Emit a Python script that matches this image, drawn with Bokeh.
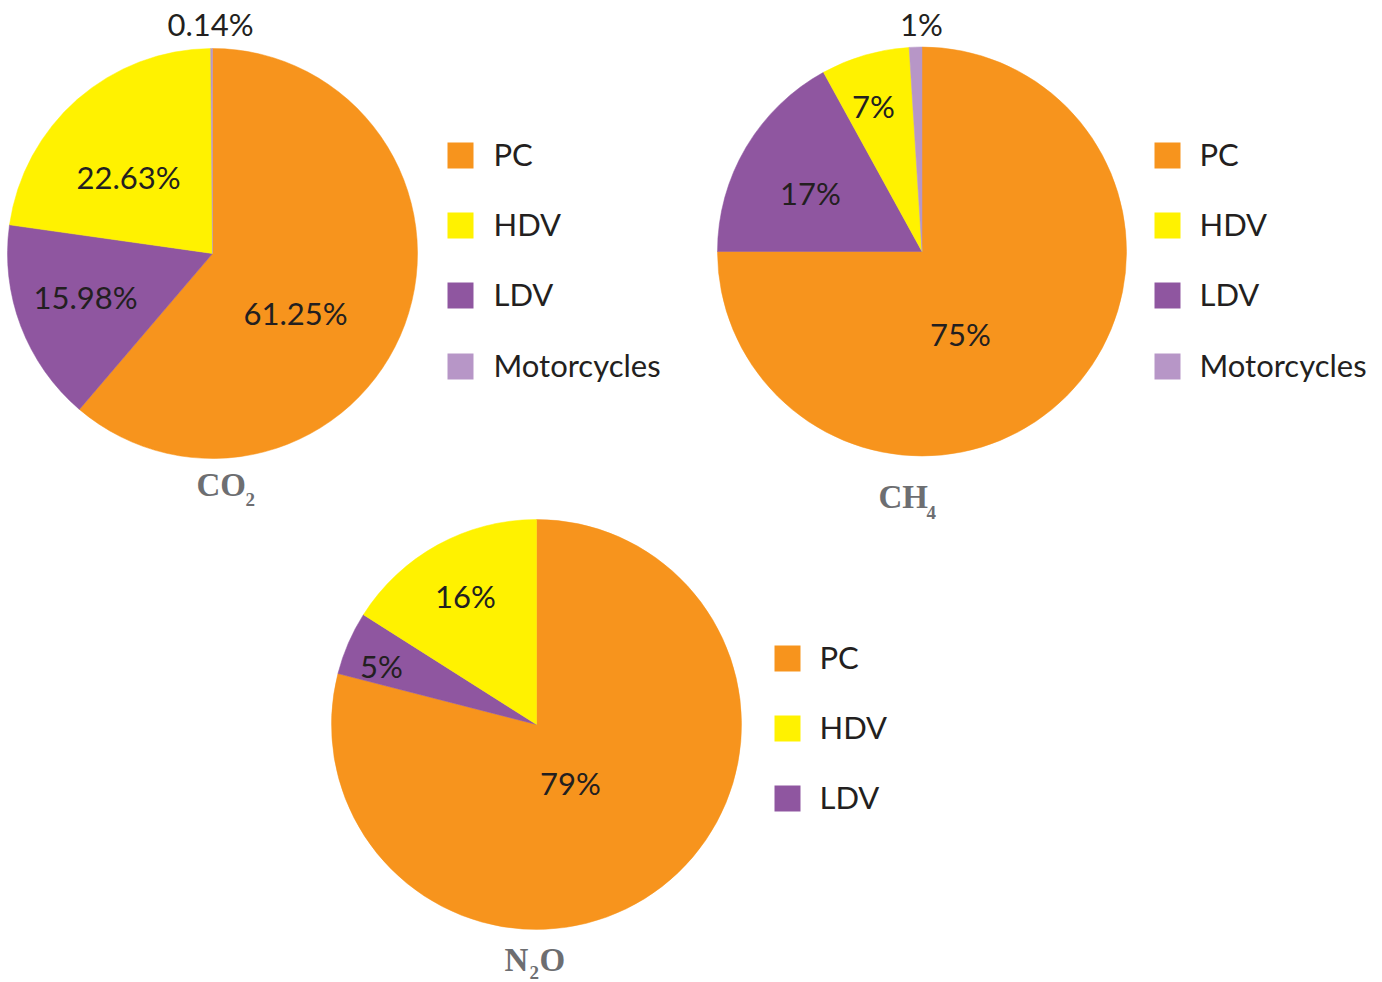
import math
from bokeh.plotting import figure
from bokeh.models import ColumnDataSource, Range1d
from bokeh.core.properties import value
from bokeh.embed import file_html
from bokeh.resources import INLINE

W, H = 1382, 982

# ---- data ----
co2_categories = ["PC", "LDV", "HDV", "Motorcycles"]
co2_values = [61.25, 15.98, 22.63, 0.14]
co2_labels = ["61.25%", "15.98%", "22.63%", "0.14%"]

ch4_categories = ["PC", "LDV", "HDV", "Motorcycles"]
ch4_values = [75, 17, 7, 1]
ch4_labels = ["75%", "17%", "7%", "1%"]

n2o_categories = ["PC", "LDV", "HDV"]
n2o_values = [79, 5, 16]
n2o_labels = ["79%", "5%", "16%"]

legend_4 = ["PC", "HDV", "LDV", "Motorcycles"]
legend_3 = ["PC", "HDV", "LDV"]

colors = {"PC": "#F7941D", "HDV": "#FFF200", "LDV": "#8F56A0", "Motorcycles": "#B796C7"}

# ---- layout (pixel positions, y measured from top) ----
pies = [
    dict(cats=co2_categories, vals=co2_values, labels=co2_labels, legend=legend_4,
         cx=212, cy=253, r=205,
         label_pos=[(295, 312), (85, 296), (128, 176), (210, 23)],
         leg_x=460, leg_y=[155, 225, 295, 366], txt_x=493),
    dict(cats=ch4_categories, vals=ch4_values, labels=ch4_labels, legend=legend_4,
         cx=921.5, cy=251, r=204.5,
         label_pos=[(960, 333), (810, 192), (873, 105), (921, 23)],
         leg_x=1167, leg_y=[155, 225, 295, 366], txt_x=1199),
    dict(cats=n2o_categories, vals=n2o_values, labels=n2o_labels, legend=legend_3,
         cx=536, cy=724, r=205,
         label_pos=[(570, 782), (381, 665), (465, 595)],
         leg_x=787, leg_y=[658, 728, 798], txt_x=819),
]

# title pieces: (text, x_left, y_center, is_subscript)
titles = [
    [("CO", 196, 484, False), ("2", 245, 499, True)],
    [("CH", 878, 496, False), ("4", 926, 512, True)],
    [("N", 504, 959, False), ("2", 529, 972, True), ("O", 539, 959, False)],
]

FONT = "Lato"
TXT = "#231F20"
TITLE_C = "#6D6E71"

p = figure(width=W, height=H, x_range=Range1d(0, W), y_range=Range1d(0, H),
           output_backend="svg", toolbar_location=None, min_border=0)
p.axis.visible = False
p.grid.visible = False
p.outline_line_color = None


def Y(y):
    return H - y


def draw_pie(d):
    total = sum(d["vals"])
    starts, ends = [], []
    cum = 0.0
    for v in d["vals"]:
        a0 = math.pi / 2 - 2 * math.pi * cum / total
        cum += v
        a1 = math.pi / 2 - 2 * math.pi * cum / total
        starts.append(a0)
        ends.append(a1)
    src = ColumnDataSource(dict(
        x=[d["cx"]] * len(d["vals"]), y=[Y(d["cy"])] * len(d["vals"]),
        start=starts, end=ends, color=[colors[c] for c in d["cats"]]))
    p.wedge(x="x", y="y", radius=d["r"], start_angle="start", end_angle="end",
            direction="clock", fill_color="color", line_color="color", line_width=0.5,
            source=src)
    lsrc = ColumnDataSource(dict(
        x=[lp[0] for lp in d["label_pos"]], y=[Y(lp[1]) for lp in d["label_pos"]],
        t=d["labels"]))
    p.text(x="x", y="y", text="t", source=lsrc, text_font=value(FONT),
           text_font_size="31px", text_color=TXT, text_align="center",
           text_baseline="middle")
    n = len(d["legend"])
    gsrc = ColumnDataSource(dict(
        x=[d["leg_x"]] * n, y=[Y(v) for v in d["leg_y"]],
        ty=[Y(v - 2) for v in d["leg_y"]],
        tx=[d["txt_x"]] * n, t=d["legend"], color=[colors[c] for c in d["legend"]]))
    p.rect(x="x", y="y", width=26, height=26, fill_color="color", line_color=None,
           source=gsrc)
    p.text(x="tx", y="ty", text="t", source=gsrc, text_font=value(FONT),
           text_font_size="31px", text_color=TXT, text_align="left",
           text_baseline="middle")


for d in pies:
    draw_pie(d)

for parts in titles:
    for txt, x, y, sub in parts:
        p.text(x=[x], y=[Y(y)], text=[txt], text_font=value("Liberation Serif"),
               text_font_style="bold", text_font_size="19px" if sub else "33px",
               text_color=TITLE_C, text_align="left", text_baseline="middle")

open("out.html", "w").write(file_html(p, INLINE))
